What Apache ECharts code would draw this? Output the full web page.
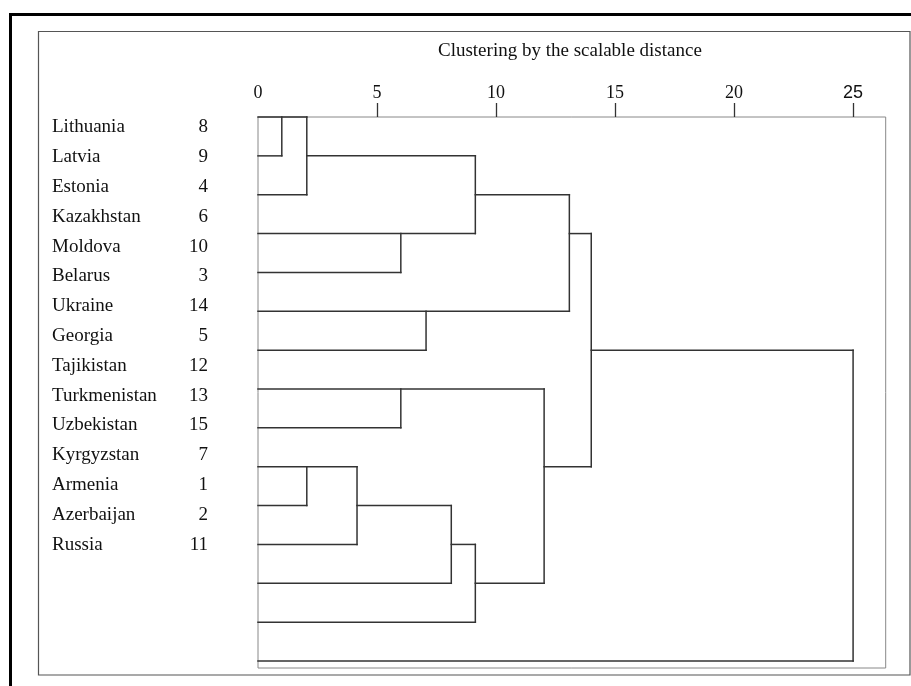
<!DOCTYPE html>
<html>
<head>
<meta charset="utf-8">
<script src="https://cdn.jsdelivr.net/npm/echarts@6/dist/echarts.min.js"></script>
<style>
  html, body { margin: 0; padding: 0; background: #fff; }
  #chart { width: 911px; height: 686px; }
</style>
</head>
<body>
<div id="chart"></div>
<script>
// ---- data ----
const countries = ['Lithuania', 'Latvia', 'Estonia', 'Kazakhstan', 'Moldova', 'Belarus', 'Ukraine',
  'Georgia', 'Tajikistan', 'Turkmenistan', 'Uzbekistan', 'Kyrgyzstan', 'Armenia', 'Azerbaijan', 'Russia'];
const caseNumbers = [8, 9, 4, 6, 10, 3, 14, 5, 12, 13, 15, 7, 1, 2, 11];
const tickValues = [0, 5, 10, 15, 20, 25];
const titleText = 'Clustering by the scalable distance';
// dendrogram horizontal links: [row, fromDistance, toDistance]
const horizontalLinks = [
  [0, 0, 2.05], [1, 0, 1.0], [1, 2.05, 9.13], [2, 0, 2.05], [2, 9.13, 13.08],
  [3, 0, 9.13], [3, 13.08, 14.0], [4, 0, 6.0], [5, 0, 13.08], [6, 0, 7.06],
  [6, 14.0, 25], [7, 0, 12.02], [8, 0, 6.0], [9, 0, 4.16], [9, 12.02, 14.0],
  [10, 0, 2.05], [10, 4.16, 8.12], [11, 0, 4.16], [11, 8.12, 9.13], [12, 0, 8.12],
  [12, 9.13, 12.02], [13, 0, 9.13], [14, 0, 25]
];
// dendrogram vertical links: [distance, fromRow, toRow]
const verticalLinks = [
  [1.0, 0, 1], [2.05, 0, 2], [9.13, 1, 3], [6.0, 3, 4], [13.08, 2, 5], [7.06, 5, 6],
  [14.0, 3, 9], [25, 6, 14], [6.0, 7, 8], [12.02, 7, 12], [2.05, 9, 10], [4.16, 9, 11],
  [8.12, 10, 12], [9.13, 11, 13]
];

// ---- chart ----
const chart = echarts.init(document.getElementById('chart'));
const serif = '"Liberation Serif", "Times New Roman", serif';
const segData = horizontalLinks.map(h => [h[1], h[0], h[2], h[0]])
  .concat(verticalLinks.map(v => [v[0], v[1], v[0], v[2]]));

const option = {
  backgroundColor: '#fff',
  animation: false,
  title: {
    text: titleText,
    left: 433,
    top: 37,
    textStyle: { fontFamily: serif, fontSize: 19, fontWeight: 'normal', color: '#111' }
  },
  graphic: [
    { type: 'rect', shape: { x: 10.5, y: 14.5, width: 940, height: 720 },
      style: { fill: 'none', stroke: '#000', lineWidth: 3 }, silent: true },
    { type: 'rect', shape: { x: 38.5, y: 31.5, width: 871.5, height: 643.5 },
      style: { fill: 'none', stroke: '#555', lineWidth: 1.2 }, silent: true }
  ],
  grid: [
    { left: 258, top: 117, width: 627.7, height: 551, show: true, borderColor: '#888', borderWidth: 1, containLabel: false },
    { left: 208, top: 112.6, width: 1, height: 447, containLabel: false }
  ],
  xAxis: [
    {
      type: 'value', gridIndex: 0, position: 'top', min: 0, max: 26.37,
      axisLine: { show: false },
      splitLine: { show: false },
      axisTick: { show: true, inside: false, length: 14, customValues: tickValues.filter(v => v > 0),
        lineStyle: { color: '#333', width: 1.3 } },
      axisLabel: {
        customValues: tickValues, margin: 15,
        formatter: v => v === 25 ? '{s|' + v + '}' : '{d|' + v + '}',
        rich: {
          d: { fontFamily: serif, fontSize: 18, color: '#111' },
          s: { fontFamily: '"Liberation Sans", Arial, sans-serif', fontSize: 18, color: '#111' }
        }
      }
    },
    { type: 'value', gridIndex: 1, show: false }
  ],
  yAxis: [
    { type: 'value', gridIndex: 0, inverse: true, min: 0, max: 14.18, show: false },
    {
      type: 'category', gridIndex: 1, inverse: true, data: countries,
      axisLine: { show: false }, axisTick: { show: false }, splitLine: { show: false },
      axisLabel: {
        margin: 0, align: 'right', interval: 0,
        formatter: (name, idx) => '{n|' + name + '}{c|' + caseNumbers[idx] + '}',
        rich: {
          n: { fontFamily: serif, fontSize: 19, color: '#111', width: 120, align: 'left' },
          c: { fontFamily: serif, fontSize: 19, color: '#111', width: 36, align: 'right' }
        }
      }
    }
  ],
  series: [
    {
      type: 'custom',
      xAxisIndex: 0, yAxisIndex: 0,
      data: segData,
      encode: { x: [0, 2], y: [1, 3] },
      renderItem: function (params, api) {
        const p0 = api.coord([api.value(0), api.value(1)]);
        const p1 = api.coord([api.value(2), api.value(3)]);
        return {
          type: 'line',
          shape: { x1: p0[0], y1: p0[1], x2: p1[0], y2: p1[1] },
          style: { stroke: '#333', lineWidth: 1.5, lineCap: 'square' }
        };
      }
    }
  ]
};
chart.setOption(option);
</script>
</body>
</html>
